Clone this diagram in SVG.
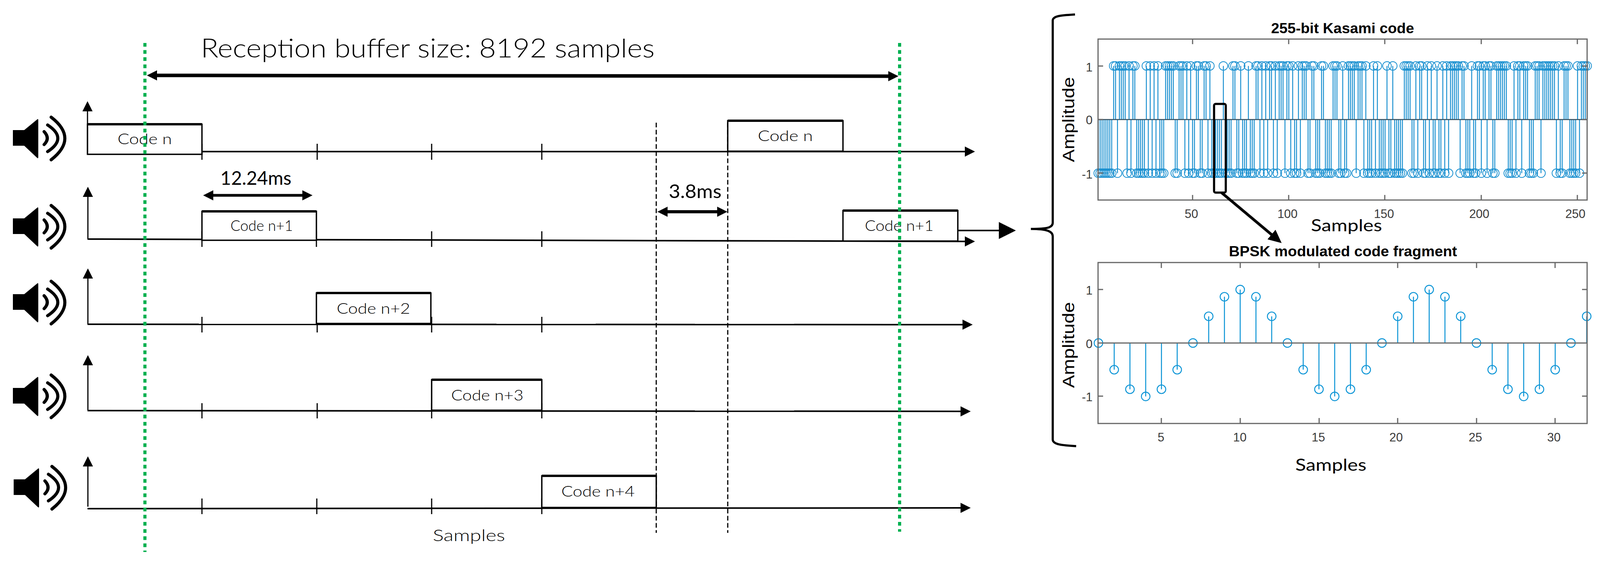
<svg xmlns="http://www.w3.org/2000/svg" width="4098" height="1436" viewBox="0 0 4098 1436">
<style>
text{font-family:"Lato","Liberation Sans",sans-serif;fill:#000}
.thin{font-size:38px;font-weight:300}
.mid{font-size:42px;font-weight:400}
.big{font-size:67px;font-weight:300}
.ms{font-size:48px;font-weight:400}
.tick{font-family:"Liberation Sans",Arial,sans-serif;font-size:31px;fill:#3a3a3a;text-anchor:middle}
.ylab{font-family:"Liberation Sans",Arial,sans-serif;font-size:31px;fill:#3a3a3a;text-anchor:end}
.title{font-family:"Liberation Sans",Arial,sans-serif;font-size:36px;font-weight:700}
.amp{font-family:"Liberation Sans",Arial,sans-serif;font-size:43px}
.box{fill:#fff;stroke:#000;stroke-width:3.5}
.top{fill:none;stroke:#000;stroke-width:6}
.ax{fill:none;stroke:#000;stroke-width:4}
.axv{fill:none;stroke:#000;stroke-width:3}
.t{fill:none;stroke:#000;stroke-width:3}
.dash{fill:none;stroke:#000;stroke-width:3;stroke-dasharray:12 6.3}
.green{fill:none;stroke:#00b050;stroke-width:8;stroke-dasharray:9.5 8.8}
.frame{fill:none;stroke:#666;stroke-width:3}
.stem{fill:none;stroke:#1a90d0;stroke-width:2.4;vector-effect:non-scaling-stroke}
.stem2{fill:none;stroke:#0a94d6;stroke-width:2.5;vector-effect:non-scaling-stroke}
.zero{fill:none;stroke:#2f4a5a;stroke-width:2.5}
</style>
<defs>
<marker id="h" viewBox="0 0 26 26" refX="2" refY="13" markerWidth="26" markerHeight="26" markerUnits="userSpaceOnUse" orient="auto-start-reverse"><path d="M0 0L26 13L0 26z" fill="#000"/></marker>
<marker id="hbig" viewBox="0 0 26 26" refX="2" refY="13" markerWidth="44" markerHeight="44" markerUnits="userSpaceOnUse" orient="auto" preserveAspectRatio="none"><path d="M0 0L26 13L0 26z" fill="#000"/></marker>
<marker id="hsl" viewBox="0 0 26 26" refX="2" refY="13" markerWidth="34" markerHeight="32" markerUnits="userSpaceOnUse" orient="auto" preserveAspectRatio="none"><path d="M0 0L26 13L0 26z" fill="#000"/></marker>
<marker id="c1" viewBox="-12 -12 24 24" refX="0" refY="0" markerWidth="4.9" markerHeight="0.175" markerUnits="userSpaceOnUse" preserveAspectRatio="none" overflow="visible"><circle r="11" fill="none" stroke="#1a90d0" stroke-width="1.9"/></marker>
<marker id="c2" viewBox="-12 -12 24 24" refX="0" refY="0" markerWidth="0.595" markerHeight="0.1756" markerUnits="userSpaceOnUse" preserveAspectRatio="none" overflow="visible"><circle r="11" fill="none" stroke="#0a94d6" stroke-width="2.4"/></marker>
<g id="spk"><path d="M33 333H62L96 305Q98 304 98 308V402Q98 407 95 404L62 373H33z" fill="#000"/><path d="M113 337Q129 354 113 370M122 320Q174 354 122 388M131 300Q201 354 131 409" fill="none" stroke="#000" stroke-width="8" stroke-linecap="round"/></g>
</defs>
<rect width="4098" height="1436" fill="#fff"/>

<g id="speaker-1"><use href="#spk"/></g>
<g id="speaker-2"><use href="#spk" y="226"/></g>
<g id="speaker-3"><use href="#spk" y="420"/></g>
<g id="speaker-4"><use href="#spk" y="660"/></g>
<g id="speaker-5"><use href="#spk" x="2" y="894"/></g>

<g id="connectors">
<path class="t" d="M517 368V409M812 368V409M1105 368V409M1387 368V409M517 592V632M810 592V632M1105 592V632M1387 592V632M517 811V851M812 811V851M1105 811V851M1387 811V851M517 1032V1071M812 1032V1071M1105 1032V1071M1387 1032V1071M517 1276V1316M811 1276V1316M1105 1276V1316M1387 1276V1316"/>
<path class="ax" d="M224 388H2472" marker-end="url(#h)"/>
<path class="ax" d="M224 612L2472 618" marker-end="url(#h)"/>
<path class="ax" d="M224 830L2466 831" marker-end="url(#h)"/>
<path class="ax" d="M224 1051L2461 1053" marker-end="url(#h)"/>
<path class="ax" d="M224 1302L2461 1300" marker-end="url(#h)"/>
<path class="axv" d="M224 395V283" marker-end="url(#h)"/>
<path class="axv" d="M225 612V502" marker-end="url(#h)"/>
<path class="axv" d="M225 830V711" marker-end="url(#h)"/>
<path class="axv" d="M225 1050V933" marker-end="url(#h)"/>
<path class="axv" d="M225 1297V1192" marker-end="url(#h)"/>
<path class="dash" d="M1680 314V1364M1863 314V1364"/>
<path class="ax" style="stroke-width:9" d="M400 193L2276 195" marker-start="url(#h)" marker-end="url(#h)"/>
<path class="ax" style="stroke-width:7" d="M544 500H776" marker-start="url(#h)" marker-end="url(#h)"/>
<path class="ax" style="stroke-width:8" d="M1707 542H1838" marker-start="url(#h)" marker-end="url(#h)"/>
<path class="ax" d="M2452 590H2560" marker-end="url(#hbig)"/>
<path class="ax" style="stroke-width:5.5" d="M2752 37C2720 39 2696 40 2695 52V570C2695 583 2680 586 2639 586C2680 586 2695 592 2695 605V1125C2695 1138 2720 1140 2755 1142"/>
</g>

<g id="code-n-1"><rect class="box" x="224" y="318" width="293" height="77"/><path class="top" d="M224 318H517"/><text class="thin" x="301" y="369" textLength="139" lengthAdjust="spacingAndGlyphs">Code n</text></g>
<g id="code-n-2"><rect class="box" x="1863" y="309" width="295" height="78"/><path class="top" d="M1863 309H2158"/><text class="thin" x="1940" y="361" textLength="141" lengthAdjust="spacingAndGlyphs">Code n</text></g>
<g id="code-n1-1"><rect class="box" x="517" y="541" width="293" height="74"/><path class="top" d="M517 541H810"/><text class="thin" x="590" y="591" textLength="160" lengthAdjust="spacingAndGlyphs">Code n+1</text></g>
<g id="code-n1-2"><rect class="box" x="2158" y="539" width="294" height="78"/><path class="top" d="M2158 539H2452"/><text class="thin" x="2214" y="591" textLength="176" lengthAdjust="spacingAndGlyphs">Code n+1</text></g>
<g id="code-n2"><rect class="box" x="810" y="750" width="293" height="78"/><path class="top" d="M810 750H1103"/><text class="thin" x="862" y="803" textLength="188" lengthAdjust="spacingAndGlyphs">Code n+2</text></g>
<g id="code-n3"><rect class="box" x="1105" y="972" width="282" height="78"/><path class="top" d="M1105 972H1387"/><text class="thin" x="1155" y="1025" textLength="185" lengthAdjust="spacingAndGlyphs">Code n+3</text></g>
<g id="code-n4"><rect class="box" x="1387" y="1218" width="293" height="81"/><path class="top" d="M1387 1218H1680"/><text class="thin" x="1437" y="1271" textLength="188" lengthAdjust="spacingAndGlyphs">Code n+4</text></g>

<g id="buffer-limits"><path class="green" d="M371 110V1413M2303 110V1361"/></g>

<g id="labels">
<text class="big" x="514" y="147" textLength="1162" lengthAdjust="spacingAndGlyphs">Reception buffer size: 8192 samples</text>
<text class="ms" x="564" y="473" textLength="182" lengthAdjust="spacingAndGlyphs">12.24ms</text>
<text class="ms" x="1712" y="507" textLength="135" lengthAdjust="spacingAndGlyphs">3.8ms</text>
<text class="thin" style="font-size:42px" x="1108" y="1385" textLength="185" lengthAdjust="spacingAndGlyphs">Samples</text>
</g>

<g id="plot-kasami">
<text class="title" x="3254" y="85" textLength="366" lengthAdjust="spacingAndGlyphs">255-bit Kasami code</text>
<g transform="translate(2806.572 306) scale(4.928 -137.3)">
<path class="stem" d="M9 0V1M10 0V1M12 0V1M13 0V1M14 0V1M15 0V1M17 0V1M19 0V1M20 0V1M26 0V1M28 0V1M30 0V1M32 0V1M36 0V1M37 0V1M38 0V1M39 0V1M40 0V1M43 0V1M44 0V1M45 0V1M47 0V1M49 0V1M52 0V1M53 0V1M56 0V1M57 0V1M59 0V1M66 0V1M71 0V1M72 0V1M75 0V1M79 0V1M83 0V1M84 0V1M86 0V1M88 0V1M90 0V1M91 0V1M93 0V1M95 0V1M96 0V1M97 0V1M99 0V1M100 0V1M102 0V1M105 0V1M107 0V1M108 0V1M109 0V1M112 0V1M113 0V1M117 0V1M118 0V1M123 0V1M124 0V1M125 0V1M128 0V1M131 0V1M132 0V1M133 0V1M134 0V1M136 0V1M137 0V1M138 0V1M140 0V1M144 0V1M146 0V1M151 0V1M154 0V1M160 0V1M161 0V1M162 0V1M163 0V1M166 0V1M168 0V1M169 0V1M172 0V1M174 0V1M177 0V1M180 0V1M182 0V1M184 0V1M185 0V1M186 0V1M187 0V1M188 0V1M190 0V1M191 0V1M195 0V1M198 0V1M199 0V1M201 0V1M202 0V1M204 0V1M205 0V1M208 0V1M209 0V1M210 0V1M211 0V1M212 0V1M213 0V1M217 0V1M219 0V1M220 0V1M222 0V1M223 0V1M224 0V1M228 0V1M229 0V1M230 0V1M232 0V1M233 0V1M234 0V1M235 0V1M236 0V1M237 0V1M238 0V1M240 0V1M243 0V1M244 0V1M245 0V1M250 0V1M252 0V1M253 0V1M254 0V1M255 0V1"/>
<path class="stem" d="M1 0V-1M2 0V-1M3 0V-1M4 0V-1M5 0V-1M6 0V-1M7 0V-1M8 0V-1M11 0V-1M16 0V-1M18 0V-1M21 0V-1M22 0V-1M23 0V-1M24 0V-1M25 0V-1M27 0V-1M29 0V-1M31 0V-1M33 0V-1M34 0V-1M35 0V-1M41 0V-1M42 0V-1M46 0V-1M48 0V-1M50 0V-1M51 0V-1M54 0V-1M55 0V-1M58 0V-1M60 0V-1M61 0V-1M62 0V-1M63 0V-1M64 0V-1M65 0V-1M67 0V-1M68 0V-1M69 0V-1M70 0V-1M73 0V-1M74 0V-1M76 0V-1M77 0V-1M78 0V-1M80 0V-1M81 0V-1M82 0V-1M85 0V-1M87 0V-1M89 0V-1M92 0V-1M94 0V-1M98 0V-1M101 0V-1M103 0V-1M104 0V-1M106 0V-1M110 0V-1M111 0V-1M114 0V-1M115 0V-1M116 0V-1M119 0V-1M120 0V-1M121 0V-1M122 0V-1M126 0V-1M127 0V-1M129 0V-1M130 0V-1M135 0V-1M139 0V-1M141 0V-1M142 0V-1M143 0V-1M145 0V-1M147 0V-1M148 0V-1M149 0V-1M150 0V-1M152 0V-1M153 0V-1M155 0V-1M156 0V-1M157 0V-1M158 0V-1M159 0V-1M164 0V-1M165 0V-1M167 0V-1M170 0V-1M171 0V-1M173 0V-1M175 0V-1M176 0V-1M178 0V-1M179 0V-1M181 0V-1M183 0V-1M189 0V-1M192 0V-1M193 0V-1M194 0V-1M196 0V-1M197 0V-1M200 0V-1M203 0V-1M206 0V-1M207 0V-1M214 0V-1M215 0V-1M216 0V-1M218 0V-1M221 0V-1M225 0V-1M226 0V-1M227 0V-1M231 0V-1M239 0V-1M241 0V-1M242 0V-1M246 0V-1M247 0V-1M248 0V-1M249 0V-1M251 0V-1"/>
<polyline fill="none" stroke="none" marker-start="url(#c1)" marker-mid="url(#c1)" marker-end="url(#c1)" points="9,1 10,1 12,1 13,1 14,1 15,1 17,1 19,1 20,1 26,1 28,1 30,1 32,1 36,1 37,1 38,1 39,1 40,1 43,1 44,1 45,1 47,1 49,1 52,1 53,1 56,1 57,1 59,1 66,1 71,1 72,1 75,1 79,1 83,1 84,1 86,1 88,1 90,1 91,1 93,1 95,1 96,1 97,1 99,1 100,1 102,1 105,1 107,1 108,1 109,1 112,1 113,1 117,1 118,1 123,1 124,1 125,1 128,1 131,1 132,1 133,1 134,1 136,1 137,1 138,1 140,1 144,1 146,1 151,1 154,1 160,1 161,1 162,1 163,1 166,1 168,1 169,1 172,1 174,1 177,1 180,1 182,1 184,1 185,1 186,1 187,1 188,1 190,1 191,1 195,1 198,1 199,1 201,1 202,1 204,1 205,1 208,1 209,1 210,1 211,1 212,1 213,1 217,1 219,1 220,1 222,1 223,1 224,1 228,1 229,1 230,1 232,1 233,1 234,1 235,1 236,1 237,1 238,1 240,1 243,1 244,1 245,1 250,1 252,1 253,1 254,1 255,1"/>
<polyline fill="none" stroke="none" marker-start="url(#c1)" marker-mid="url(#c1)" marker-end="url(#c1)" points="1,-1 2,-1 3,-1 4,-1 5,-1 6,-1 7,-1 8,-1 11,-1 16,-1 18,-1 21,-1 22,-1 23,-1 24,-1 25,-1 27,-1 29,-1 31,-1 33,-1 34,-1 35,-1 41,-1 42,-1 46,-1 48,-1 50,-1 51,-1 54,-1 55,-1 58,-1 60,-1 61,-1 62,-1 63,-1 64,-1 65,-1 67,-1 68,-1 69,-1 70,-1 73,-1 74,-1 76,-1 77,-1 78,-1 80,-1 81,-1 82,-1 85,-1 87,-1 89,-1 92,-1 94,-1 98,-1 101,-1 103,-1 104,-1 106,-1 110,-1 111,-1 114,-1 115,-1 116,-1 119,-1 120,-1 121,-1 122,-1 126,-1 127,-1 129,-1 130,-1 135,-1 139,-1 141,-1 142,-1 143,-1 145,-1 147,-1 148,-1 149,-1 150,-1 152,-1 153,-1 155,-1 156,-1 157,-1 158,-1 159,-1 164,-1 165,-1 167,-1 170,-1 171,-1 173,-1 175,-1 176,-1 178,-1 179,-1 181,-1 183,-1 189,-1 192,-1 193,-1 194,-1 196,-1 197,-1 200,-1 203,-1 206,-1 207,-1 214,-1 215,-1 216,-1 218,-1 221,-1 225,-1 226,-1 227,-1 231,-1 239,-1 241,-1 242,-1 246,-1 247,-1 248,-1 249,-1 251,-1"/>
</g>
<path class="zero" d="M2811 306H4063"/>
<rect class="frame" x="2811" y="100" width="1252" height="412"/>
<path class="frame" d="M3053 100v13M3299 100v13M3545 100v13M3792 100v13M4038 100v13M3053 512v-13M3299 512v-13M3545 512v-13M3792 512v-13M4038 512v-13M2811 169h13M2811 306h13M2811 443h13M4063 169h-13M4063 306h-13M4063 443h-13"/>
<text class="ylab" x="2797" y="183">1</text><text class="ylab" x="2797" y="318">0</text><text class="ylab" x="2797" y="457">-1</text>
<text class="tick" x="3050" y="558">50</text><text class="tick" x="3296" y="558">100</text><text class="tick" x="3543" y="558">150</text><text class="tick" x="3787" y="558">200</text><text class="tick" x="4033" y="558">250</text>
<text class="mid" x="3356" y="592" textLength="182" lengthAdjust="spacingAndGlyphs">Samples</text>
<text class="amp" transform="translate(2750 415) rotate(-90)" textLength="218" lengthAdjust="spacingAndGlyphs">Amplitude</text>
</g>

<g id="plot-bpsk">
<text class="title" x="3146" y="656" textLength="584" lengthAdjust="spacingAndGlyphs">BPSK modulated code fragment</text>
<g transform="translate(2771.7 878) scale(40.32 -136.7)">
<path class="stem2" d="M2 0V-.5M3 0V-.866M4 0V-1M5 0V-.866M6 0V-.5M8 0V.5M9 0V.866M10 0V1M11 0V.866M12 0V.5M14 0V-.5M15 0V-.866M16 0V-1M17 0V-.866M18 0V-.5M20 0V.5M21 0V.866M22 0V1M23 0V.866M24 0V.5M26 0V-.5M27 0V-.866M28 0V-1M29 0V-.866M30 0V-.5M32 0V.5"/>
<polyline fill="none" stroke="none" marker-start="url(#c2)" marker-mid="url(#c2)" marker-end="url(#c2)" points="1,0 2,-.5 3,-.866 4,-1 5,-.866 6,-.5 7,0 8,.5 9,.866 10,1 11,.866 12,.5 13,0 14,-.5 15,-.866 16,-1 17,-.866 18,-.5 19,0 20,.5 21,.866 22,1 23,.866 24,.5 25,0 26,-.5 27,-.866 28,-1 29,-.866 30,-.5 31,0 32,.5"/>
</g>
<path class="frame" d="M2811 878H4063"/>
<rect class="frame" x="2811" y="672" width="1252" height="412"/>
<path class="frame" d="M2973 672v14M3175 672v14M3377 672v14M3578 672v14M3780 672v14M3981 672v14M2973 1084v-14M3175 1084v-14M3377 1084v-14M3578 1084v-14M3780 1084v-14M3981 1084v-14M2811 741h13M2811 1014h13M4063 741h-13M4063 1014h-13"/>
<text class="ylab" x="2797" y="754">1</text><text class="ylab" x="2797" y="891">0</text><text class="ylab" x="2797" y="1027">-1</text>
<text class="tick" x="2972" y="1130">5</text><text class="tick" x="3174" y="1130">10</text><text class="tick" x="3375" y="1130">15</text><text class="tick" x="3574" y="1130">20</text><text class="tick" x="3777" y="1130">25</text><text class="tick" x="3978" y="1130">30</text>
<text class="mid" x="3316" y="1205" textLength="182" lengthAdjust="spacingAndGlyphs">Samples</text>
<text class="amp" transform="translate(2750 993) rotate(-90)" textLength="220" lengthAdjust="spacingAndGlyphs">Amplitude</text>
</g>

<g id="fragment-zoom">
<rect x="3108" y="266" width="30" height="227" rx="4" fill="none" stroke="#000" stroke-width="5.5"/>
<path d="M3127 493L3257 602" fill="none" stroke="#000" stroke-width="7" marker-end="url(#hsl)"/>
</g>
</svg>
